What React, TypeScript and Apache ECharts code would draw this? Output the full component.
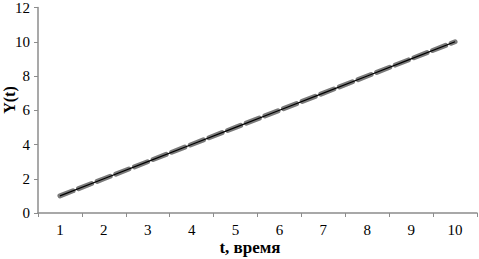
import React, { useEffect, useRef } from "react";
import * as echarts from "echarts";

const categories = ["1", "2", "3", "4", "5", "6", "7", "8", "9", "10"];
const seriesDashed = [1, 2, 3, 4, 5, 6, 7, 8, 9, 10];
const seriesSolid = [1, 2, 3, 4, 5, 6, 7, 8, 9, 10];
const yTitle = "Y(t)";
const xTitle = "t, время";

export default function App() {
  const ref = useRef<HTMLDivElement>(null);
  useEffect(() => {
    const chart = echarts.init(ref.current!, null, { renderer: "svg" });
    const font = "'Liberation Serif', 'Times New Roman', serif";
    chart.setOption({
      animation: false,
      grid: { left: 38, right: 2, top: 6, bottom: 46, containLabel: false },
      xAxis: {
        type: "category",
        data: categories,
        boundaryGap: true,
        axisLine: { show: true, lineStyle: { color: "#8c8c8c", width: 1.5 } },
        axisTick: { show: true, interval: 0, length: 4, lineStyle: { color: "#8c8c8c" } },
        axisLabel: { color: "#000", fontFamily: font, fontSize: 15, margin: 9 },
        splitLine: { show: false },
      },
      yAxis: {
        type: "value",
        min: 0,
        max: 12,
        interval: 2,
        axisLine: { show: true, lineStyle: { color: "#8c8c8c", width: 1.5 } },
        axisTick: { show: true, length: 4, lineStyle: { color: "#8c8c8c" } },
        axisLabel: { color: "#000", fontFamily: font, fontSize: 15, margin: 8 },
        splitLine: { show: false },
      },
      graphic: [
        {
          type: "text",
          x: 9,
          y: 100,
          rotation: Math.PI / 2,
          style: {
            text: yTitle,
            fontFamily: font,
            fontSize: 16,
            fontWeight: "bold",
            fill: "#000",
            align: "center",
            verticalAlign: "middle",
          },
        },
        {
          type: "text",
          x: 250,
          y: 247,
          style: {
            text: xTitle,
            fontFamily: font,
            fontSize: 17,
            fontWeight: "bold",
            fill: "#000",
            align: "center",
            verticalAlign: "middle",
          },
        },
      ],
      series: [
        {
          type: "line",
          data: seriesDashed,
          symbol: "none",
          lineStyle: { color: "#7a7a7a", width: 5, type: [14, 6], cap: "round" },
          z: 2,
        },
        {
          type: "line",
          data: seriesSolid,
          symbol: "none",
          lineStyle: { color: "#000", width: 1.2 },
          z: 3,
        },
      ],
    });
    return () => chart.dispose();
  }, []);
  return <div ref={ref} style={{ width: 479, height: 259, position: "absolute", left: 0, top: 0, background: "#fff" }} />;
}
